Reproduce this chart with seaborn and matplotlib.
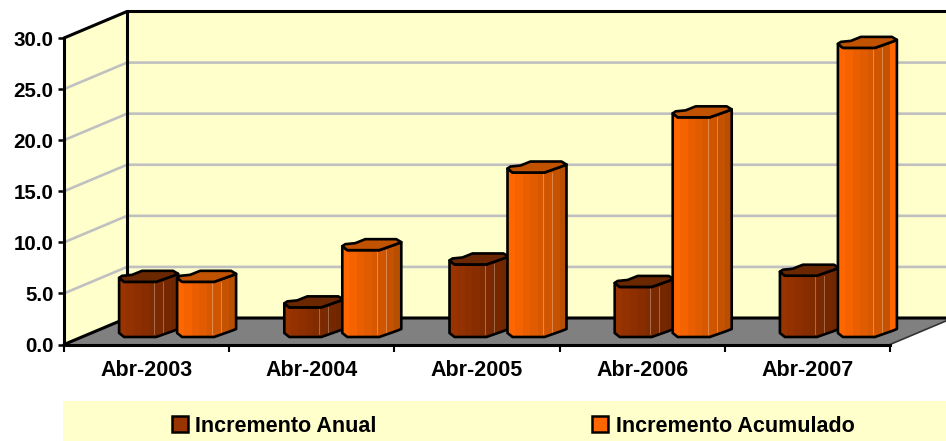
import numpy as np
import pandas as pd
import matplotlib
matplotlib.use("Agg")
import matplotlib.pyplot as plt
from matplotlib.colors import to_rgb
from matplotlib.patches import Patch, Polygon, Rectangle
import seaborn as sns

# values
periods = ["Abr-2003", "Abr-2004", "Abr-2005", "Abr-2006", "Abr-2007"]
anual = [5.4, 2.9, 7.1, 4.9, 6.0]
acumulado = [5.4, 8.5, 16.1, 21.5, 28.3]
y_ticks = [0, 5, 10, 15, 20, 25, 30]
series_names = ["Incremento Anual", "Incremento Acumulado"]

W, H = 946, 441
AX_L, AX_R, AX_T, AX_B = 64, 890, 38, 344.5   # plot front plane in pixels
PX_X = 5 / (AX_R - AX_L)
PX_Y = 30 / (AX_B - AX_T)
DEPTH_X = 63 * PX_X
DEPTH_Y = 26.5 * PX_Y
BAR_SHIFT = 30.5 * PX_X
BAR_BASE = 7.5 * PX_Y
BAR_W = 58 * PX_X
FONT_SIZE = 15.5

# octagon-ish cross section of a column, px from its front left
SECTION = [(0, 4), (5, 0), (37, 0), (54, 6), (59, 8), (54, 11), (23, 11), (13, 7), (3, 6)]

STYLE = {
    series_names[0]: dict(bands=["#993300", "#933100", "#8D2F00", "#872D00", "#812B00", "#7B2900", "#752800", "#6E2700"],
                          cap="#6B2800", base="#993300"),
    series_names[1]: dict(bands=["#FF6600", "#F56200", "#EB5E00", "#E15B00", "#D85800", "#CF5500", "#C55200", "#B84E00"],
                          cap="#C05200", base="#FF6600"),
}

sns.set_style("white")
plt.rcParams["font.family"] = ["Liberation Sans", "DejaVu Sans"]
plt.rcParams["font.weight"] = "bold"

fig = plt.figure(figsize=(W / 100, H / 100), dpi=100)
ax = fig.add_axes([AX_L / W, 1 - AX_B / H, (AX_R - AX_L) / W, (AX_B - AX_T) / H])
ax.patch.set_visible(False)

df = pd.DataFrame({
    "periodo": periods * 2,
    "serie": [series_names[0]] * 5 + [series_names[1]] * 5,
    "valor": anual + acumulado,
})
sns.barplot(data=df, x="periodo", y="valor", hue="serie", order=periods, hue_order=series_names,
            palette={k: v["base"] for k, v in STYLE.items()}, width=2 * BAR_W, gap=0,
            legend=False, ax=ax, zorder=3, linewidth=0, edgecolor="none")

x0, x1 = -0.5, 4.5
y_max = y_ticks[-1]

# walls and floor
wall = "#FFFFCC"
ax.add_patch(Polygon([(x0, 0), (x0 + DEPTH_X, DEPTH_Y), (x0 + DEPTH_X, y_max + DEPTH_Y), (x0, y_max)],
                     fc=wall, ec="none", zorder=0.5, clip_on=False))
ax.add_patch(Rectangle((x0 + DEPTH_X, DEPTH_Y), x1 - x0, y_max, fc=wall, ec="none", zorder=0.5, clip_on=False))
ax.add_patch(Polygon([(x0, 0), (x0 + DEPTH_X, DEPTH_Y), (x1 + DEPTH_X, DEPTH_Y), (x1, 0)],
                     fc="#808080", ec="none", zorder=1, clip_on=False))

for t in y_ticks[1:-1]:
    ax.plot([x0, x0 + DEPTH_X, x1 + DEPTH_X], [t, t + DEPTH_Y, t + DEPTH_Y], color="#C0C0C0", lw=1.9,
            zorder=0.8, clip_on=False, solid_joinstyle="round")

black = dict(color="black", lw=2.2, clip_on=False, zorder=2, solid_capstyle="round")
ax.plot([x0, x0 + DEPTH_X, x1 + DEPTH_X], [y_max, y_max + DEPTH_Y, y_max + DEPTH_Y], **black)
ax.plot([x0 + DEPTH_X, x0 + DEPTH_X], [DEPTH_Y, y_max + DEPTH_Y], **black)
ax.plot([x0, x0 + DEPTH_X, x1 + DEPTH_X], [0, DEPTH_Y, DEPTH_Y], **black)
ax.plot([x1, x1 + DEPTH_X], [0, DEPTH_Y], color="#333333", lw=1.2, clip_on=False, zorder=2)


def draw_column(bar, style, z):
    left = bar.get_x() + BAR_SHIFT
    height = bar.get_height()
    # seaborn's rectangle stays as the core of the column
    bar.set_x(left + 6 * PX_X)
    bar.set_width(30 * PX_X)
    bar.set_y(BAR_BASE + 1 * PX_Y)
    bar.set_height(height - 1 * PX_Y)
    bar.set_zorder(z - 0.05)

    pts = [(left + dx * PX_X, BAR_BASE + dy * PX_Y) for dx, dy in SECTION]
    front = pts[:5]
    body_xy = [(x, y + height) for x, y in front] + front[::-1]
    body = Polygon(body_xy, fc=style["base"], ec="none", zorder=z, clip_on=False)
    ax.add_patch(body)

    grad = np.array([[to_rgb(c) for c in style["bands"]]])
    im = ax.imshow(grad, extent=[left, left + 59 * PX_X, BAR_BASE, BAR_BASE + height + 13 * PX_Y], aspect="auto",
                   interpolation="nearest", zorder=z + 0.01)
    im.set_clip_path(body)

    for off in (35, 44):
        ax.plot([left + off * PX_X] * 2, [BAR_BASE + 3 * PX_Y, BAR_BASE + height], color="white", alpha=0.3,
                lw=0.7, zorder=z + 0.02, clip_on=False)

    ax.add_patch(Polygon(body_xy, fc="none", ec="black", lw=1.9, zorder=z + 0.03, clip_on=False, joinstyle="round"))
    ax.add_patch(Polygon([(x, y + height) for x, y in pts], fc=style["cap"], ec="black", lw=1.9,
                         zorder=z + 0.04, clip_on=False, joinstyle="round"))


for i, (name, container) in enumerate(zip(series_names, ax.containers)):
    for j, bar in enumerate(container):
        draw_column(bar, STYLE[name], 4 + j + i * 0.5)

# axes, ticks
ax.set_xlim(x0, x1)
ax.set_ylim(0, y_max)
ax.set_xlabel("")
ax.set_ylabel("")
ax.set_yticks(y_ticks)
ax.set_yticklabels([f"{t:.1f}" for t in y_ticks], fontsize=14.8, fontweight="bold", color="black")
ax.set_xticks(range(len(periods)))
ax.set_xticklabels(periods, fontsize=FONT_SIZE, fontweight="bold", color="black")
ax.set_xticks(np.arange(x0, x1 + 0.5), minor=True)
ax.tick_params(axis="x", which="major", length=0, pad=11)
ax.tick_params(axis="x", which="minor", bottom=True, length=5, width=1.5, color="black")
ax.tick_params(axis="y", left=True, length=4.5, width=1.8, color="black", pad=3)
sns.despine(ax=ax, top=True, right=True)
for side in ("left", "bottom"):
    ax.spines[side].set_color("black")
    ax.spines[side].set_linewidth(2.2)
    ax.spines[side].set_zorder(2.5)

# legend band
fig.add_artist(Rectangle((63 / W, 0), (W - 63) / W, (H - 401) / H, transform=fig.transFigure,
                         fc=wall, ec="none", zorder=0))
handles = [Patch(fc=STYLE[n]["base"], ec="black", lw=1.8, label=n) for n in series_names]
leg = fig.legend(handles=handles, loc="center", bbox_to_anchor=(513 / W, 1 - 426 / H), ncol=2, frameon=False,
                 prop={"family": "Liberation Sans", "weight": "bold", "size": FONT_SIZE},
                 handlelength=0.75, handleheight=0.75, handletextpad=0.35, columnspacing=10.0)
for txt in leg.get_texts():
    txt.set_color("black")

fig.savefig("out.png", dpi=100)
